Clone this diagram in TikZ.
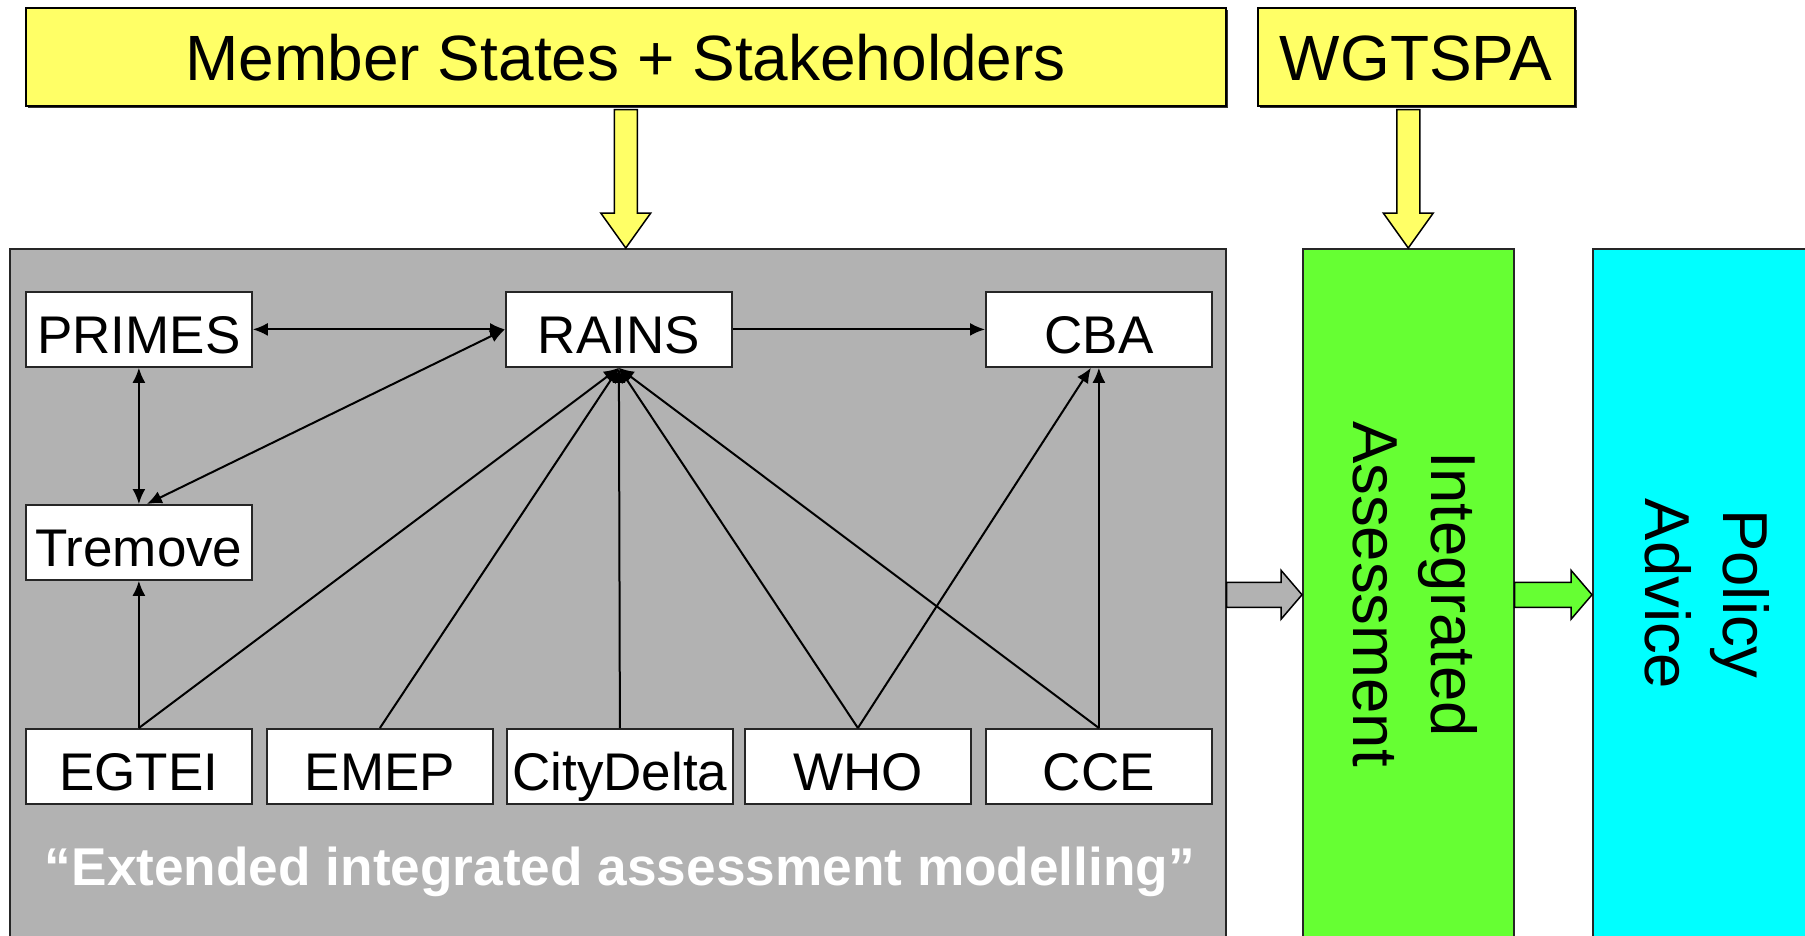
\documentclass[tikz,border=0pt]{standalone}
\usepackage{fontspec}
\setmainfont{Liberation Sans}
\usetikzlibrary{arrows.meta,calc,shadows}
\definecolor{boxyellow}{HTML}{FFFF66}
\definecolor{iagreen}{HTML}{66FF33}
\definecolor{advcyan}{HTML}{00FFFF}
\definecolor{modelgray}{HTML}{B2B2B2}

% block arrow pointing down: #1 start, #2 tip, #3 fill
\newcommand\downblock[3]{%
  \draw[blockarrow, fill=#3]
    ($(#1)+(-11.5,3)$) -- ($(#1)+(11.5,3)$) -- ($(#2)+(11.5,-35)$) --
    ($(#2)+(25,-35)$) -- (#2) -- ($(#2)+(-25,-35)$) --
    ($(#2)+(-11.5,-35)$) -- cycle;}
% block arrow pointing right: #1 start, #2 tip, #3 fill
\newcommand\rightblock[3]{%
  \draw[blockarrow, fill=#3]
    ($(#1)+(0,-12.5)$) -- ($(#2)+(-21,-12.5)$) -- ($(#2)+(-21,-24.5)$) --
    (#2) -- ($(#2)+(-21,24.5)$) -- ($(#2)+(-21,12.5)$) --
    ($(#1)+(0,12.5)$) -- cycle;}

\begin{document}
\begin{tikzpicture}[x=1pt,y=-1pt,
  headbox/.style={draw=black, line width=1.5pt, fill=boxyellow,
    general shadow={fill=black!80, shadow xshift=2.5pt, shadow yshift=-2.5pt},
    anchor=north west, inner sep=0pt, minimum height=98pt,
    font=\fontsize{64}{70}\selectfont, text height=52pt, text depth=4pt},
  panel/.style={draw=black!85, line width=1.5pt, anchor=north west,
    minimum height=692pt, inner sep=0pt},
  model/.style={draw=black!85, line width=1.8pt, fill=white,
    minimum width=226pt, minimum height=75pt, inner sep=0pt,
    anchor=north west, font=\fontsize{53}{60}\selectfont,
    text height=50pt, text depth=1pt},
  vlabel/.style={rotate=-90, align=center, inner sep=0pt,
    font=\fontsize{63.5}{78}\selectfont},
  link/.style={line width=2pt, draw=black},
  tip/.style={-{Latex[length=15pt,width=13pt]}},
  twotip/.style={{Latex[length=15pt,width=13pt]}-{Latex[length=15pt,width=13pt]}},
  blockarrow/.style={draw=black, line width=1.5pt, line join=miter}
]
\useasboundingbox (0,0) rectangle (1805,935);
\clip (0,0) rectangle (1805,935);
\fill[white] (0,0) rectangle (1805,935);

% top sources
\node[headbox, minimum width=1200pt] (ms) at (25,7) {Member States + Stakeholders};
\node[headbox, minimum width=317pt] (wg) at (1257,7) {WGTSPA};

% main panels
\node[panel, fill=modelgray, minimum width=1216pt] (model) at (9,248) {};
\node[panel, fill=iagreen, minimum width=211pt] (ia) at (1302,248) {};
\node[panel, fill=advcyan, minimum width=230pt] (adv) at (1592,248) {};

\node[vlabel] (iatext) at (1415,594) {Integrated\\Assessment};
\node[vlabel] (advtext) at (1707,594) {Policy\\Advice};

% models
\node[model] (primes) at (25,291) {PRIMES};
\node[model] (rains) at (505,291) {RAINS};
\node[model] (cba) at (985,291) {CBA};
\node[model] (tremove) at (25,504) {Tremove};
\node[model] (egtei) at (25,728) {EGTEI};
\node[model] (emep) at (266,728) {EMEP};
\node[model] (citydelta) at (506,728) {CityDelta};
\node[model] (who) at (744,728) {WHO};
\node[model] (cce) at (985,728) {CCE};

\node[anchor=base, text=white, inner sep=0pt,
  font=\bfseries\fontsize{53.2}{60}\selectfont] (eiam) at (620,885)
  {“Extended integrated assessment modelling”};

% model links
\draw[link, twotip] (primes.east) -- (rains.west);
\draw[link, tip] (rains.east) -- (cba.west);
\draw[link, twotip] (primes.south) -- (tremove.north);
\draw[link, twotip] ($(tremove.north)+(8,0)$) -- (rains.west);
\draw[link, tip] (egtei.north) -- (tremove.south);
\draw[link, tip] (egtei.north) -- (rains.south);
\draw[link, tip] (emep.north) -- (rains.south);
\draw[link, tip] (citydelta.north) -- (rains.south);
\draw[link, tip] (who.north) -- (rains.south);
\draw[link, tip] (cce.north) -- (rains.south);
\draw[link, tip] (who.north) -- ($(cba.south)+(-8,0)$);
\draw[link, tip] (cce.north) -- (cba.south);

% block arrows
\downblock{ms.south}{ms.south |- model.north}{boxyellow}
\downblock{ia.north |- wg.south}{ia.north}{boxyellow}
\rightblock{model.east}{ia.west}{modelgray}
\rightblock{ia.east}{adv.west}{iagreen}
\end{tikzpicture}
\end{document}
